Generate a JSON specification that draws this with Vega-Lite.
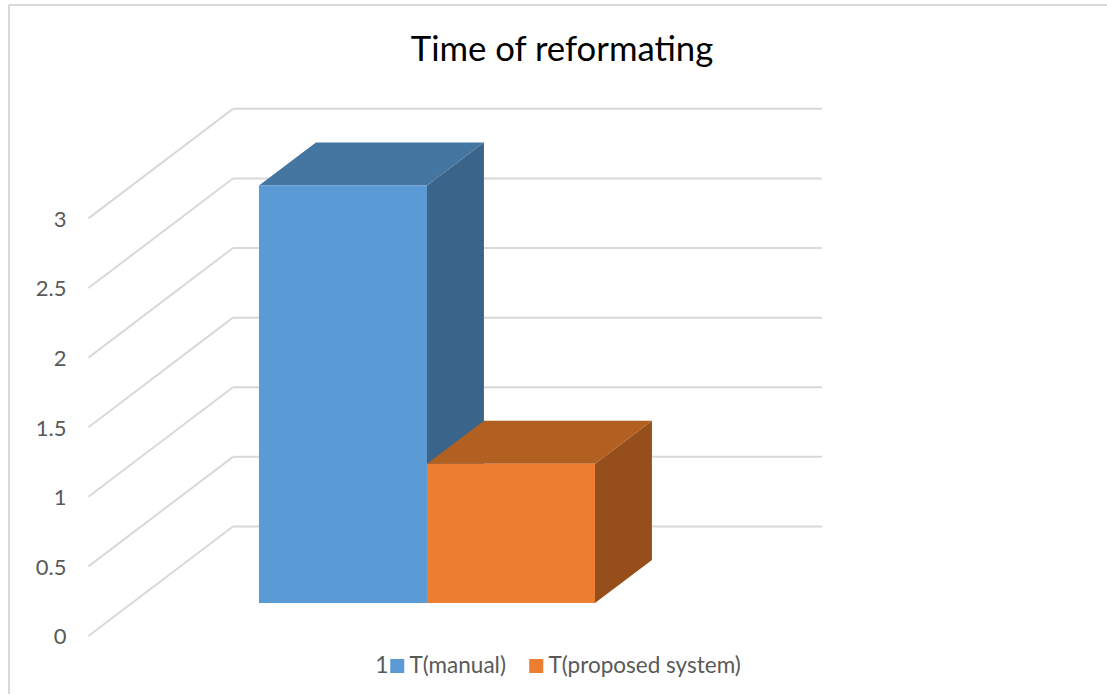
{
  "$schema": "https://vega.github.io/schema/vega-lite/v6.json",
  "autosize": "none",
  "width": 1098,
  "height": 689,
  "padding": {"left": 9, "top": 5, "right": 0, "bottom": 0},
  "background": "white",
  "view": {"stroke": null},
  "title": {
    "text": "Time of reformating",
    "font": "Lato",
    "fontSize": 34.7,
    "fontWeight": "normal",
    "color": "#000000",
    "anchor": "middle",
    "dx": 4,
    "offset": -65
  },
  "config": {"font": "Lato"},
  "datasets": {
    "bars": [
      {"category": "1", "series": "T(manual)", "value": 3},
      {"category": "1", "series": "T(proposed system)", "value": 1}
    ],
    "ticks": [
      {"tick": 0}, {"tick": 0.5}, {"tick": 1}, {"tick": 1.5},
      {"tick": 2}, {"tick": 2.5}, {"tick": 3}
    ]
  },
  "data": {"name": "bars"},
  "transform": [
    {"calculate": "indexof(['T(manual)','T(proposed system)'], datum.series)", "as": "slot"},
    {"calculate": "1.488 + datum.slot", "as": "left"},
    {"calculate": "datum.left + 1", "as": "right"},
    {"calculate": "0.237", "as": "base"},
    {"calculate": "datum.base + datum.value", "as": "top"}
  ],
  "layer": [
    {
      "data": {"name": "ticks"},
      "transform": [
        {"calculate": "0.473", "as": "frontX"},
        {"calculate": "1.333", "as": "backX"},
        {"calculate": "datum.tick + 0.787", "as": "backY"}
      ],
      "mark": {"type": "rule", "color": "#D9D9D9", "strokeWidth": 2},
      "encoding": {
        "x": {"field": "frontX", "type": "quantitative", "scale": {"domain": [0, 6.5357], "nice": false, "zero": false}, "axis": null},
        "x2": {"field": "backX"},
        "y": {
          "field": "tick",
          "type": "quantitative",
          "scale": {"domain": [-0.4167, 4.533], "nice": false, "zero": false},
          "axis": {
            "orient": "left",
            "offset": -57,
            "values": [0, 0.5, 1, 1.5, 2, 2.5, 3],
            "format": "~g",
            "title": null,
            "domain": false,
            "ticks": false,
            "grid": false,
            "labelPadding": 0,
            "labelOffset": 1,
            "labelFont": "Lato",
            "labelFontSize": 22,
            "labelColor": "#595959"
          }
        },
        "y2": {"field": "backY"}
      }
    },
    {
      "data": {"name": "ticks"},
      "transform": [
        {"calculate": "1.333", "as": "backX"},
        {"calculate": "4.839", "as": "endX"},
        {"calculate": "datum.tick + 0.787", "as": "backY"}
      ],
      "mark": {"type": "rule", "color": "#D9D9D9", "strokeWidth": 2},
      "encoding": {
        "x": {"field": "backX", "type": "quantitative", "axis": null},
        "x2": {"field": "endX"},
        "y": {"field": "backY", "type": "quantitative"}
      }
    },
    {
      "mark": {"type": "rule", "color": "#D9D9D9", "strokeWidth": 2},
      "encoding": {"x": {"datum": 0, "type": "quantitative", "axis": null}}
    },
    {
      "mark": {"type": "rule", "color": "#D9D9D9", "strokeWidth": 2},
      "encoding": {"y": {"datum": 4.533, "type": "quantitative"}}
    },
    {
      "transform": [
        {"calculate": "[datum.right, datum.right + 0.339]", "as": "px"},
        {"calculate": "[datum.base, datum.base + 0.309]", "as": "lower"},
        {"calculate": "[datum.top, datum.top + 0.309]", "as": "upper"},
        {"flatten": ["px", "lower", "upper"]}
      ],
      "mark": {"type": "area", "opacity": 1, "line": false},
      "encoding": {
        "x": {"field": "px", "type": "quantitative", "axis": null},
        "y": {"field": "lower", "type": "quantitative", "stack": null},
        "y2": {"field": "upper"},
        "color": {
          "field": "series",
          "type": "nominal",
          "scale": {"domain": ["T(manual)", "T(proposed system)"], "range": ["#3A6489", "#964F1B"]},
          "legend": null
        }
      }
    },
    {
      "transform": [
        {"calculate": "[datum.left, datum.left + 0.339, datum.right, datum.right + 0.339]", "as": "px"},
        {"calculate": "[datum.top, datum.top, datum.top, datum.top + 0.309]", "as": "lower"},
        {"calculate": "[datum.top, datum.top + 0.309, datum.top + 0.309, datum.top + 0.309]", "as": "upper"},
        {"flatten": ["px", "lower", "upper"]}
      ],
      "mark": {"type": "area", "opacity": 1, "line": false},
      "encoding": {
        "x": {"field": "px", "type": "quantitative", "axis": null},
        "y": {"field": "lower", "type": "quantitative", "stack": null},
        "y2": {"field": "upper"},
        "color": {
          "field": "series",
          "type": "nominal",
          "scale": {"domain": ["T(manual)", "T(proposed system)"], "range": ["#4575A1", "#B25F22"]},
          "legend": null
        }
      }
    },
    {
      "mark": {"type": "rect"},
      "encoding": {
        "x": {"field": "left", "type": "quantitative", "axis": null},
        "x2": {"field": "right"},
        "y": {"field": "base", "type": "quantitative"},
        "y2": {"field": "top"},
        "color": {
          "field": "series",
          "type": "nominal",
          "scale": {"domain": ["T(manual)", "T(proposed system)"], "range": ["#5B9BD5", "#ED7D31"]},
          "legend": {
            "orient": "none",
            "legendX": 377,
            "legendY": 649,
            "direction": "horizontal",
            "columns": 2,
            "title": null,
            "symbolType": "square",
            "symbolSize": 196,
            "symbolStrokeWidth": 0,
            "labelFont": "Lato",
            "labelFontSize": 22.5,
            "labelColor": "#595959",
            "labelOffset": 1,
            "labelLimit": 300,
            "columnPadding": 19,
            "clipHeight": 24
          }
        }
      }
    },
    {
      "transform": [{"aggregate": [{"op": "min", "field": "category", "as": "category"}]}],
      "mark": {"type": "text", "font": "Lato", "fontSize": 23, "color": "#595959", "align": "right", "baseline": "middle"},
      "encoding": {
        "x": {"datum": 2.26, "type": "quantitative", "axis": null},
        "y": {"datum": -0.2155, "type": "quantitative"},
        "text": {"field": "category", "type": "nominal"}
      }
    }
  ],
  "resolve": {"scale": {"color": "independent"}}
}
